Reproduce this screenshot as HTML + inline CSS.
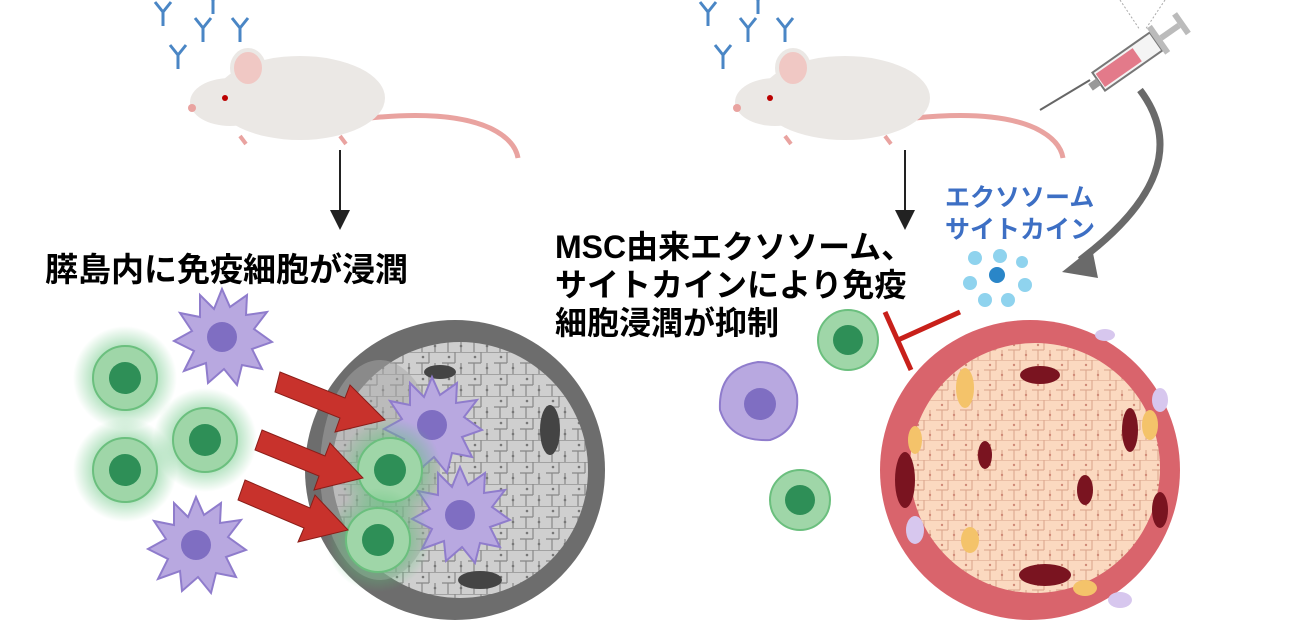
<!DOCTYPE html>
<html><head><meta charset="utf-8"><style>
body{margin:0;background:#fff;}
svg{display:block}
text{font-family:"Liberation Sans","Noto Sans CJK JP",sans-serif;font-weight:bold}
</style></head><body>
<svg width="1300" height="628" viewBox="0 0 1300 628" xmlns="http://www.w3.org/2000/svg">
<defs>
<radialGradient id="glow"><stop offset="0.5" stop-color="#5fc27a" stop-opacity="0.6"/><stop offset="1" stop-color="#5fc27a" stop-opacity="0"/></radialGradient>
<pattern id="gcell" width="26" height="22" patternUnits="userSpaceOnUse"><rect width="26" height="22" fill="#cfcfcf"/><path d="M0 0h26M0 11h13M13 0v11M6 11v11M19 11v11" stroke="#888" stroke-width="1.2" fill="none"/><circle cx="7" cy="5" r="1.3" fill="#777"/><circle cx="19" cy="16" r="1.3" fill="#777"/></pattern>
<pattern id="pcell" width="24" height="20" patternUnits="userSpaceOnUse"><rect width="24" height="20" fill="#fbd9c0"/><path d="M0 0h24M0 10h12M12 0v10M6 10v10M18 10v10" stroke="#d9a48a" stroke-width="1" fill="none"/><circle cx="6" cy="5" r="1.2" fill="#d08a78"/><circle cx="18" cy="15" r="1.2" fill="#d08a78"/></pattern>
<marker id="ah" markerWidth="10" markerHeight="10" refX="5" refY="5" orient="auto"><path d="M0 0L10 5L0 10z" fill="#222"/></marker>
<g id="ab"><path d="M0 0L8 10M16 0L8 10M8 10V24" stroke="#4a86c5" stroke-width="3" fill="none"/></g>
<g id="mouse">
<path d="M170 78 Q 250 70 290 88 Q 315 100 318 118" stroke="#e9a3a0" stroke-width="5" fill="none"/>
<ellipse cx="100" cy="58" rx="85" ry="42" fill="#ebe8e5"/>
<ellipse cx="30" cy="62" rx="40" ry="24" fill="#ebe8e5"/>
<ellipse cx="48" cy="28" rx="16" ry="18" fill="#f0c8c4" stroke="#ebe8e5" stroke-width="4"/>
<circle cx="25" cy="58" r="3" fill="#b00"/>
<circle cx="-8" cy="68" r="4" fill="#e9a3a0"/>
<path d="M40 96 l6 8 M140 96 l6 8" stroke="#e9a3a0" stroke-width="4"/>
</g>
<g id="green"><circle r="52" fill="url(#glow)"/><circle r="32" fill="#9fd6a8" stroke="#6bbf7e" stroke-width="2"/><circle r="16" fill="#2e8f57"/></g>
<g id="spiky"><path d="M0 -48L8 -30L25 -42L24 -22L45 -25L32 -8L50 5L30 12L40 32L20 28L15 48L2 32L-14 46L-16 26L-38 34L-28 14L-48 4L-30 -6L-42 -24L-22 -20L-22 -42L-8 -28z" fill="#b8a8e0" stroke="#8f7ccc" stroke-width="2"/><circle r="15" fill="#7f6ec2"/></g>
</defs>

<use href="#ab" x="155" y="2"/><use href="#ab" x="195" y="18"/><use href="#ab" x="232" y="18"/><use href="#ab" x="170" y="45"/><use href="#ab" x="205" y="-10"/>
<use href="#mouse" x="200" y="40"/>
<line x1="340" y1="150" x2="340" y2="220" stroke="#222" stroke-width="2" marker-end="url(#ah)"/>
<text x="45" y="281" font-size="33">膵島内に免疫細胞が浸潤</text>

<circle cx="455" cy="470" r="150" fill="#6d6d6d"/>
<circle cx="460" cy="470" r="128" fill="url(#gcell)"/>
<ellipse cx="380" cy="470" rx="60" ry="110" fill="#a8a8a8" opacity="0.5"/>
<ellipse cx="550" cy="430" rx="10" ry="25" fill="#444"/>
<ellipse cx="480" cy="580" rx="22" ry="9" fill="#444"/>
<ellipse cx="440" cy="372" rx="16" ry="7" fill="#444"/>

<use href="#green" x="125" y="378"/><use href="#green" x="205" y="440"/><use href="#green" x="125" y="470"/>
<use href="#spiky" x="222" y="337"/><use href="#spiky" x="196" y="545"/>
<use href="#spiky" x="432" y="425"/><use href="#spiky" x="460" y="515"/>
<use href="#green" x="390" y="470"/><use href="#green" x="378" y="540"/>
<g fill="#c8322c" stroke="#8a1d18" stroke-width="1">
<path d="M280 372 L345 398 L350 385 L385 420 L335 432 L340 418 L275 392z"/>
<path d="M262 430 L325 456 L330 443 L363 478 L314 490 L319 476 L255 450z"/>
<path d="M245 480 L310 508 L315 495 L348 530 L298 542 L304 528 L238 500z"/>
</g>

<use href="#ab" x="700" y="2"/><use href="#ab" x="740" y="18"/><use href="#ab" x="777" y="18"/><use href="#ab" x="715" y="45"/><use href="#ab" x="750" y="-10"/>
<use href="#mouse" x="745" y="40"/>
<line x1="1040" y1="110" x2="1090" y2="80" stroke="#666" stroke-width="2"/>
<g transform="rotate(-35 1135 55)">
<rect x="1090" y="45" width="70" height="22" fill="#f4f4f4" stroke="#777" stroke-width="2"/>
<rect x="1092" y="48" width="45" height="16" fill="#e37a8a"/>
<rect x="1160" y="40" width="6" height="32" fill="#bbb"/><rect x="1166" y="53" width="22" height="6" fill="#bbb"/><rect x="1188" y="44" width="6" height="24" fill="#bbb"/>
<rect x="1080" y="52" width="10" height="8" fill="#999"/>
</g>
<line x1="1120" y1="0" x2="1140" y2="30" stroke="#aaa" stroke-dasharray="2 2"/><line x1="1165" y1="0" x2="1145" y2="30" stroke="#aaa" stroke-dasharray="2 2"/>
<path d="M1140 90 Q 1200 170 1080 260" stroke="#6a6a6a" stroke-width="7" fill="none"/>
<path d="M1062 272 L1092 248 L1098 278z" fill="#6a6a6a"/>
<line x1="905" y1="150" x2="905" y2="220" stroke="#222" stroke-width="2" marker-end="url(#ah)"/>
<text x="945" y="206" font-size="25" fill="#3d6fc4">エクソソーム</text>
<text x="945" y="238" font-size="25" fill="#3d6fc4">サイトカイン</text>
<g fill="#8fd3ee"><circle cx="975" cy="258" r="7"/><circle cx="1000" cy="256" r="7"/><circle cx="1022" cy="262" r="6"/><circle cx="970" cy="283" r="7"/><circle cx="1025" cy="285" r="7"/><circle cx="985" cy="300" r="7"/><circle cx="1008" cy="300" r="7"/></g>
<circle cx="997" cy="275" r="8" fill="#2a86c8"/>
<text x="555" y="258" font-size="32">MSC由来エクソソーム、</text>
<text x="555" y="296" font-size="32">サイトカインにより免疫</text>
<text x="555" y="334" font-size="32">細胞浸潤が抑制</text>
<line x1="960" y1="312" x2="898" y2="340" stroke="#c8201a" stroke-width="5"/>
<line x1="885" y1="312" x2="911" y2="370" stroke="#c8201a" stroke-width="5"/>

<circle cx="1030" cy="470" r="150" fill="#d9646c"/>
<circle cx="1035" cy="468" r="125" fill="url(#pcell)"/>
<g fill="#7a1420"><ellipse cx="1040" cy="375" rx="20" ry="9"/><ellipse cx="1130" cy="430" rx="8" ry="22"/><ellipse cx="905" cy="480" rx="10" ry="28"/><ellipse cx="1045" cy="575" rx="26" ry="11"/><ellipse cx="1085" cy="490" rx="8" ry="15"/><ellipse cx="985" cy="455" rx="7" ry="14"/><ellipse cx="1160" cy="510" rx="8" ry="18"/></g>
<g fill="#f4c36a"><ellipse cx="965" cy="388" rx="9" ry="20"/><ellipse cx="915" cy="440" rx="7" ry="14"/><ellipse cx="1150" cy="425" rx="8" ry="15"/><ellipse cx="1085" cy="588" rx="12" ry="8"/><ellipse cx="970" cy="540" rx="9" ry="13"/></g>
<g fill="#d7c7ee"><ellipse cx="1160" cy="400" rx="8" ry="12"/><ellipse cx="915" cy="530" rx="9" ry="14"/><ellipse cx="1105" cy="335" rx="10" ry="6"/><ellipse cx="1120" cy="600" rx="12" ry="8"/></g>

<g><circle cx="848" cy="340" r="30" fill="#9fd6a8" stroke="#6bbf7e" stroke-width="2"/><circle cx="848" cy="340" r="15" fill="#2e8f57"/></g>
<g><circle cx="800" cy="500" r="30" fill="#9fd6a8" stroke="#6bbf7e" stroke-width="2"/><circle cx="800" cy="500" r="15" fill="#2e8f57"/></g>
<g><path d="M758 362 Q 790 362 797 395 Q 800 430 770 440 Q 730 442 720 410 Q 718 368 758 362z" fill="#b8a8e0" stroke="#8f7ccc" stroke-width="2"/><circle cx="760" cy="404" r="16" fill="#7f6ec2"/></g>
</svg>
</body></html>
